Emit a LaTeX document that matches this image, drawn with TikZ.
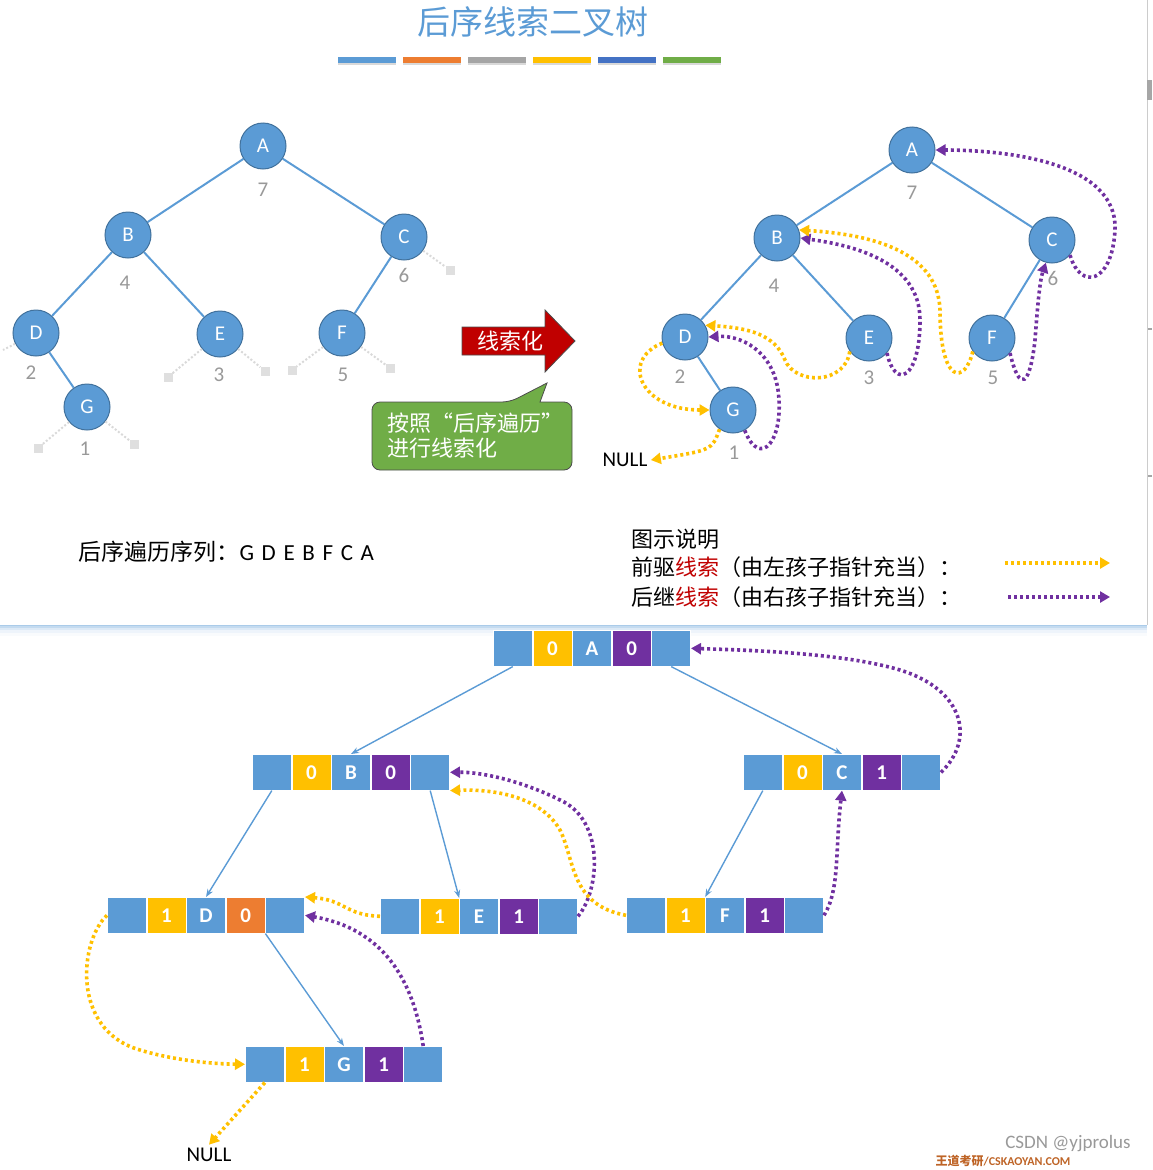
\documentclass[tikz,border=0pt]{standalone}
\usepackage{fontspec}
\setmainfont{Carlito}
\newfontfamily\cjk{Noto Sans CJK SC}
\usetikzlibrary{arrows.meta,shapes.geometric}
\definecolor{cb}{HTML}{5B9BD5}
\definecolor{cbd}{HTML}{41719C}
\definecolor{co}{HTML}{ED7D31}
\definecolor{cg}{HTML}{A5A5A5}
\definecolor{cy}{HTML}{FFC000}
\definecolor{cdb}{HTML}{4472C4}
\definecolor{cgr}{HTML}{70AD47}
\definecolor{cp}{HTML}{7030A0}
\definecolor{cr}{HTML}{C00000}
\tikzset{
 tn/.style={circle,fill=cb,draw=cbd,line width=1pt,minimum size=46pt,inner sep=0pt,text=white,font=\fontsize{21}{21}\selectfont},
 num/.style={text=gray!80,font=\fontsize{21}{21}\selectfont},
 te/.style={cb,line width=2pt},
 nl/.style={gray!30,line width=2pt,dash pattern=on 2pt off 2pt},
 sq/.style={fill=gray!25,minimum size=9pt,inner sep=0pt},
 yt/.style={cy,line width=3.6pt,dash pattern=on 3pt off 3pt,-{Triangle[length=10pt,width=11pt]}},
 pt/.style={cp,line width=3.6pt,dash pattern=on 3pt off 3pt,-{Triangle[length=10pt,width=11pt]}},
 cell/.style={minimum width=39pt,minimum height=36pt,inner sep=0pt,draw=white,line width=0.6pt,text=white,font=\bfseries\fontsize{21}{21}\selectfont},
 ba/.style={cb,line width=1.4pt,-{Stealth[length=8pt,width=6pt]}},
 cj/.style={font=\cjk\fontsize{22}{25}\selectfont},
}
\newcommand\brow[7]{%
 \node[cell,fill=cb,anchor=north west] (#1a) at (#2,#3) {};
 \node[cell,fill=cy,anchor=west] (#1b) at (#1a.east) {#4};
 \node[cell,fill=cb,anchor=west] (#1c) at (#1b.east) {#5};
 \node[cell,fill=#7,anchor=west] (#1d) at (#1c.east) {#6};
 \node[cell,fill=cb,anchor=west] (#1e) at (#1d.east) {};}
\begin{document}
\begin{tikzpicture}[x=1pt,y=-1pt]
\useasboundingbox (0,0) rectangle (1152,1170);
% panel shadow
\foreach \i/\o in {1/0.25,3/0.18,5/0.12,8/0.07,11/0.04}{\fill[cb,opacity=\o] (0,625) rectangle (1147,625+\i);}
\draw[gray!40,line width=1pt] (1147,0) -- (1147,625);
\fill[gray!70] (1147,80) rectangle (1152,100);
\fill[gray!70] (1148,328) rectangle (1152,330);
\fill[gray!70] (1148,475) rectangle (1152,477);
% title
\node[text=cb,font=\cjk\fontsize{33}{33}\selectfont] (title) at (533,22) {后序线索二叉树};
\foreach \c [count=\i] in {cb,co,cg,cy,cdb,cgr}{
 \fill[\c] (338+65*\i-65,57) rectangle ++(58,6);
 \fill[gray!30] (338+65*\i-65,63) rectangle ++(58,2);}
% left tree
\node[tn] (A) at (263,146) {A};
\node[tn] (B) at (128,235) {B};
\node[tn] (C) at (404,237) {C};
\node[tn] (D) at (36,333) {D};
\node[tn] (E) at (220,334) {E};
\node[tn] (F) at (342,333) {F};
\node[tn] (G) at (87,407) {G};
\draw[te] (A)--(B); \draw[te] (A)--(C); \draw[te] (B)--(D); \draw[te] (B)--(E); \draw[te] (C)--(F); \draw[te] (D)--(G);
\node[num] at (263,190) {7}; \node[num] at (125,283) {4}; \node[num] at (404,275) {6};
\node[num] at (31,373) {2}; \node[num] at (219,375) {3}; \node[num] at (343,375) {5}; \node[num] at (85,449) {1};
\node[sq] (nc) at (450,270) {}; \draw[nl] (C) -- (nc);
\coordinate (nd) at (3,350); \draw[nl] (D) -- (nd);
\node[sq] (ne1) at (168,377) {}; \draw[nl] (E) -- (ne1);
\node[sq] (ne2) at (265,371) {}; \draw[nl] (E) -- (ne2);
\node[sq] (nf1) at (292,370) {}; \draw[nl] (F) -- (nf1);
\node[sq] (nf2) at (390,368) {}; \draw[nl] (F) -- (nf2);
\node[sq] (ng1) at (38,448) {}; \draw[nl] (G) -- (ng1);
\node[sq] (ng2) at (134,444) {}; \draw[nl] (G) -- (ng2);
% red arrow
\draw[fill=cr,draw=gray!60!black,line width=0.8pt] (462,327) -- (545,327) -- (545,310) -- (575,341) -- (545,372) -- (545,355) -- (462,355) -- cycle;
\node[text=white,cj] (xs) at (510,341) {线索化};
% callout
\draw[fill=cgr,draw=gray!60!black,line width=0.8pt,rounded corners=8pt] (372,402) -- (510,402) [sharp corners] -- (547,383) -- (540,402) [rounded corners=8pt] -- (572,402) -- (572,470) -- (372,470) -- cycle;
\node[text=white,cj,align=left,anchor=west] (cl) at (384,436) {按照“后序遍历”\\进行线索化};
% right tree
\node[tn] (rA) at (912,150) {A};
\node[tn] (rB) at (777,238) {B};
\node[tn] (rC) at (1052,240) {C};
\node[tn] (rD) at (685,337) {D};
\node[tn] (rE) at (869,338) {E};
\node[tn] (rF) at (992,338) {F};
\node[tn] (rG) at (733,410) {G};
\draw[te] (rA)--(rB); \draw[te] (rA)--(rC); \draw[te] (rB)--(rD); \draw[te] (rB)--(rE); \draw[te] (rC)--(rF); \draw[te] (rD)--(rG);
\node[num] at (912,193) {7}; \node[num] at (774,286) {4}; \node[num] at (1053,278) {6};
\node[num] at (680,377) {2}; \node[num] at (869,378) {3}; \node[num] at (993,378) {5}; \node[num] at (734,453) {1};
\node[font=\fontsize{21}{21}\selectfont] (rnull) at (625,460) {NULL};
\draw[yt] (rG.235) .. controls (712,450) .. (rnull.east);
\draw[yt] (rD.195) .. controls (620,360) and (640,410) .. (rG.west);
\draw[pt] (rG.300) .. controls (760,470) and (785,440) .. (778,390) .. controls (772,350) and (740,335) .. (rD.east);
\draw[yt] (rE.215) .. controls (845,385) and (795,385) .. (785,360) .. controls (775,335) and (750,328) .. (rD.30);
\draw[pt] (rE.320) .. controls (895,390) and (920,380) .. (920,320) .. controls (920,260) and (850,245) .. (rB.east);
\draw[yt] (rF.215) .. controls (965,385) and (940,385) .. (940,310) .. controls (938,255) and (880,235) .. (rB.20);
\draw[pt] (rF.320) .. controls (1020,395) and (1030,385) .. (1035,340) .. controls (1038,300) and (1040,280) .. (rC.255);
\draw[pt] (rC.320) .. controls (1080,290) and (1112,285) .. (1115,230) .. controls (1118,160) and (1000,150) .. (rA.east);
% traversal text and legend
\node[anchor=west,font=\fontsize{23}{23}\selectfont] (seq) at (75,552) {{\cjk 后序遍历序列：}G\,\,D\,\,E\,\,B\,\,F\,\,C\,\,A};
\node[anchor=west,cj] (lg1) at (628,539) {图示说明};
\node[anchor=west,cj] (lg2) at (628,567) {前驱{\color{cr}线索}（由左孩子指针充当）：};
\node[anchor=west,cj] (lg3) at (628,597) {后继{\color{cr}线索}（由右孩子指针充当）：};
\coordinate (ly1) at (1005,563); \coordinate (ly2) at (1110,563);
\coordinate (lp1) at (1008,597); \coordinate (lp2) at (1110,597);
\draw[yt] (ly1) -- (ly2); \draw[pt] (lp1) -- (lp2);
% bottom structure
\brow{A}{493}{630}{0}{A}{0}{cp}
\brow{B}{252}{754}{0}{B}{0}{cp}
\brow{C}{743}{754}{0}{C}{1}{cp}
\brow{D}{107}{897}{1}{D}{0}{co}
\brow{E}{380}{898}{1}{E}{1}{cp}
\brow{F}{626}{897}{1}{F}{1}{cp}
\brow{G}{245}{1046}{1}{G}{1}{cp}
\draw[ba] (Aa.south) -- (Bc.north);
\draw[ba] (Ae.south) -- (Cc.north);
\draw[ba] (Ba.south) -- (Dc.north);
\draw[ba] (Be.south) -- (Eb.north east);
\draw[ba] (Ca.south) -- (Fb.north east);
\draw[ba] (Dd.south east) -- (Gc.north);
\node[font=\fontsize{21}{21}\selectfont] (bnull) at (209,1155) {NULL};
\draw[pt] (Ce.east) .. controls (975,740) and (965,690) .. (900,670) .. controls (840,652) and (740,650) .. (Ae.east);
\draw[pt] (Ee.east) .. controls (600,890) and (605,820) .. (560,800) .. controls (520,780) and (480,772) .. (Be.east);
\draw[yt] (Fa.west) .. controls (570,905) and (575,860) .. (560,830) .. controls (540,795) and (490,789) .. (Be.south east);
\draw[yt] (Ea.west) .. controls (345,915) and (345,900) .. (De.north east);
\draw[pt] (Ge.north) .. controls (415,990) and (390,930) .. (De.east);
\draw[yt] (Da.west) .. controls (80,940) and (70,1030) .. (140,1050) .. controls (180,1062) and (220,1064) .. (Ga.west);
\draw[yt] (Ga.south) -- (bnull.north);
\draw[pt] (Fe.east) .. controls (840,890) and (835,850) .. (Cc.south);
\node[text=gray!80,font=\fontsize{19}{19}\selectfont,anchor=south] (csdn) at (1068,1155) {CSDN @yjprolus};
\node[text=co!80!black,font=\fontsize{12}{12}\selectfont\bfseries,anchor=south] (wd) at (1003,1170) {{\cjk 王道考研}/CSKAOYAN.COM};
\end{tikzpicture}
\end{document}
